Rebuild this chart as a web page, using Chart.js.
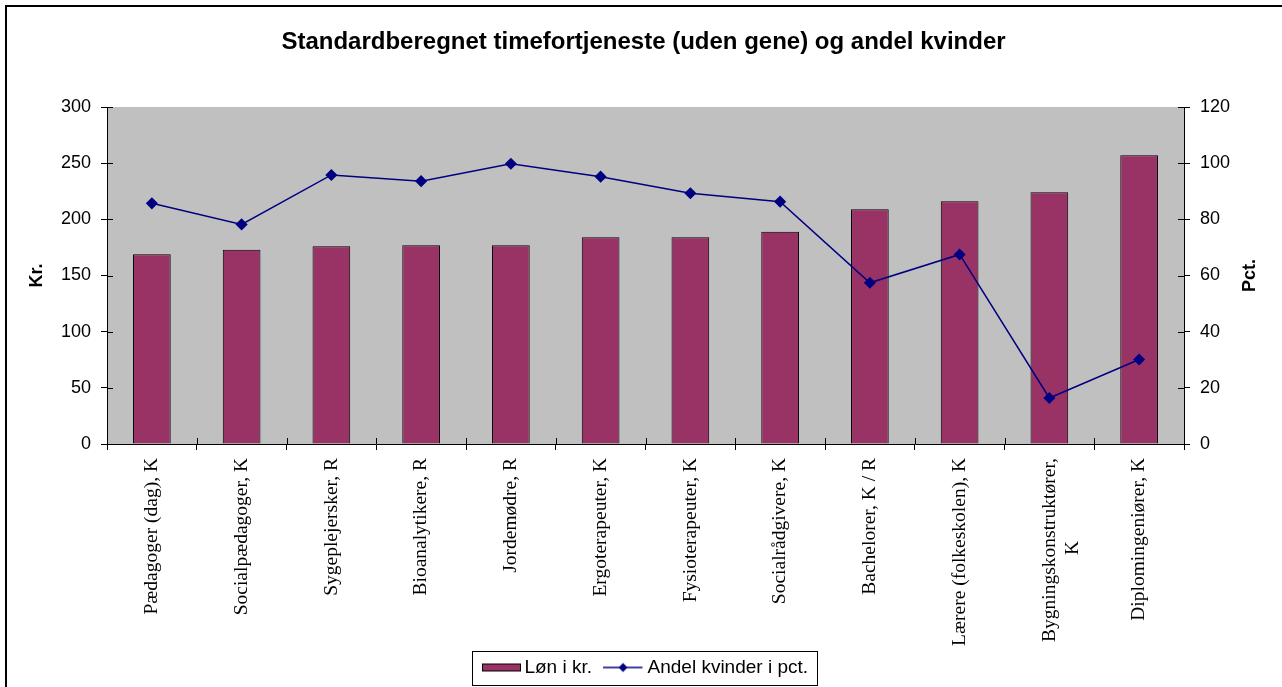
<!DOCTYPE html>
<html>
<head>
<meta charset="utf-8">
<script src="https://cdn.jsdelivr.net/npm/chart.js@4/dist/chart.umd.min.js"></script>
<style>
  html, body { margin: 0; padding: 0; background: #fff; }
  #contenedor { width: 1282px; height: 687px; position: relative; }
</style>
</head>
<body>
<div id="contenedor"><canvas id="graficoLoen"></canvas></div>
<script>
// Kategorier (uddannelser)
var uddannelser = [
  'Pædagoger (dag), K', 'Socialpædagoger, K', 'Sygeplejersker, R', 'Bioanalytikere, R',
  'Jordemødre, R', 'Ergoterapeuter, K', 'Fysioterapeuter, K', 'Socialrådgivere, K',
  'Bachelorer, K / R', 'Lærere (folkeskolen), K', ['Bygningskonstruktører,', 'K'], 'Diplomingeniører, K'
];
// Løn i kr. (venstre akse)
var loenKr = [169, 173, 176, 177, 177, 184, 184, 189, 209, 216, 224, 257];
// Andel kvinder i pct. (højre akse)
var andelKvinder = [85.7, 78.2, 95.8, 93.6, 99.8, 95.2, 89.3, 86.3, 57.4, 67.5, 16.4, 30.1];
// Akse-inddelinger
var ticksKr = [0, 50, 100, 150, 200, 250, 300];
var ticksPct = [0, 20, 40, 60, 80, 100, 120];

var fuente = '"Liberation Sans", Arial, sans-serif';
var fuenteSerif = '"Liberation Serif", "Times New Roman", serif';
Chart.defaults.color = '#000';
Chart.defaults.font.family = fuente;

// Obtener el contexto para medir texto
var medir = document.createElement('canvas').getContext('2d');
medir.font = '19.5px ' + fuenteSerif;

// muestras de la leyenda (imagenes pequeñas)
function muestraBarra() {
  var c = document.createElement('canvas');
  c.width = 52; c.height = 12;
  var x = c.getContext('2d');
  x.fillStyle = '#993366';
  x.fillRect(11, 2, 39, 8);
  x.strokeStyle = '#000'; x.lineWidth = 1;
  x.strokeRect(11.5, 2.5, 38, 7);
  return c;
}
function muestraLinea() {
  var c = document.createElement('canvas');
  c.width = 52; c.height = 12;
  var x = c.getContext('2d');
  x.strokeStyle = '#000080'; x.lineWidth = 1.5;
  x.beginPath(); x.moveTo(9, 6); x.lineTo(48.5, 6); x.stroke();
  x.fillStyle = '#000080';
  x.beginPath(); x.moveTo(29, 1.5); x.lineTo(33.5, 6); x.lineTo(29, 10.5); x.lineTo(24.5, 6); x.closePath(); x.fill();
  return c;
}

var fondoYMarco = {
  id: 'fondoYMarco',
  beforeDraw: function (chart) {
    var c = chart.ctx, a = chart.chartArea;
    c.save();
    c.fillStyle = '#fff';
    c.fillRect(0, 0, chart.width, chart.height);
    c.fillStyle = '#c0c0c0';
    c.fillRect(a.left, a.top, a.right - a.left, a.bottom - a.top);
    // marco exterior: solo arriba e izquierda
    c.strokeStyle = '#000'; c.lineWidth = 2;
    c.beginPath(); c.moveTo(6, chart.height); c.lineTo(6, 6); c.lineTo(chart.width, 6); c.stroke();
    c.restore();
  },
  afterDraw: function (chart) {
    var c = chart.ctx, a = chart.chartArea;
    var y = chart.scales.y, y1 = chart.scales.y1;
    c.save();
    c.strokeStyle = '#000'; c.lineWidth = 1;
    c.beginPath();
    // marcas hacia dentro (cruzadas)
    y.ticks.forEach(function (t) {
      var p = Math.round(y.getPixelForValue(t.value)) + 0.5;
      c.moveTo(a.left, p); c.lineTo(a.left + 6, p);
    });
    y1.ticks.forEach(function (t) {
      var p = Math.round(y1.getPixelForValue(t.value)) + 0.5;
      c.moveTo(a.right - 6, p); c.lineTo(a.right, p);
    });
    var paso = (a.right - a.left) / uddannelser.length;
    for (var i = 0; i <= uddannelser.length; i++) {
      var px = Math.round(a.left + i * paso) + 0.5;
      c.moveTo(px, a.bottom); c.lineTo(px, a.bottom - 6);
    }
    c.stroke();

    // titulo del eje derecho, leido de abajo hacia arriba
    c.fillStyle = '#000';
    c.font = 'bold 18px ' + fuente;
    c.textAlign = 'center'; c.textBaseline = 'middle';
    c.translate(1250, (a.top + a.bottom) / 2);
    c.rotate(-Math.PI / 2);
    c.fillText('Pct.', 0, 0);
    c.restore();

    // marco de la leyenda
    var hb = chart.legend.legendHitBoxes;
    if (hb && hb.length) {
      var izq = hb[0].left - 7;
      var ult = hb[hb.length - 1];
      var der = ult.left + ult.width + 9;
      var centro = hb[0].top + hb[0].height / 2;
      c.save();
      c.strokeStyle = '#000'; c.lineWidth = 1;
      c.strokeRect(Math.round(izq) + 0.5, Math.round(centro - 17) + 0.5, Math.round(der - izq), 34);
      c.restore();
    }
  }
};

var ctx = document.getElementById('graficoLoen').getContext('2d');
var grafico = new Chart(ctx, {
  type: 'bar',
  data: {
    labels: uddannelser,
    datasets: [
      {
        type: 'bar',
        label: 'Løn i kr.',
        data: loenKr,
        yAxisID: 'y',
        backgroundColor: '#993366',
        borderColor: '#000',
        borderWidth: 1,
        barPercentage: 0.42,
        categoryPercentage: 1.0,
        order: 2
      },
      {
        type: 'line',
        label: 'Andel kvinder i pct.',
        data: andelKvinder,
        yAxisID: 'y1',
        borderColor: '#000080',
        borderWidth: 1.5,
        backgroundColor: '#000080',
        pointStyle: 'rectRot',
        pointRadius: 5,
        pointBackgroundColor: '#000080',
        pointBorderColor: '#000080',
        tension: 0,
        order: 1
      }
    ]
  },
  options: {
    responsive: true,
    maintainAspectRatio: false,
    animation: false,
    layout: { padding: { left: 26, right: 21, top: 0, bottom: 0 } },
    plugins: {
      title: {
        display: true,
        text: 'Standardberegnet timefortjeneste (uden gene) og andel kvinder',
        font: { size: 24, weight: 'bold', family: fuente },
        color: '#000',
        padding: { top: 28, bottom: 50.2 }
      },
      legend: {
        position: 'bottom',
        labels: {
          usePointStyle: true,
          pointStyleWidth: 36,
          padding: 10,
          font: { size: 19, family: fuente },
          color: '#000',
          generateLabels: function (chart) {
            return [
              { text: 'Løn i kr.', pointStyle: muestraBarra(), datasetIndex: 0, hidden: false, lineWidth: 0, fontColor: '#000' },
              { text: 'Andel kvinder i pct.', pointStyle: muestraLinea(), datasetIndex: 1, hidden: false, lineWidth: 0, fontColor: '#000' }
            ];
          }
        }
      },
      tooltip: { enabled: true }
    },
    scales: {
      x: {
        grid: { display: true, drawOnChartArea: false, drawTicks: true, tickLength: 6, color: '#000', tickColor: '#000' },
        border: { display: true, color: '#000', width: 1 },
        afterFit: function (scale) { scale.height = 204; },
        ticks: {
          autoSkip: false,
          minRotation: 90,
          maxRotation: 90,
          padding: 8,
          color: '#000',
          font: { size: 19.5, family: fuenteSerif },
          callback: function (valor) {
            var etiqueta = this.getLabelForValue(valor);
            if (Array.isArray(etiqueta)) {
              // centrar la linea corta respecto a la larga
              var w1 = medir.measureText(etiqueta[0]).width;
              var w2 = medir.measureText(etiqueta[1]).width;
              var esp = medir.measureText(' ').width;
              var n = Math.round(((w1 - w2) / 2) / esp);
              return [etiqueta[0], etiqueta[1] + ' '.repeat(n)];
            }
            return etiqueta;
          }
        }
      },
      y: {
        position: 'left',
        min: ticksKr[0],
        max: ticksKr[ticksKr.length - 1],
        afterBuildTicks: function (scale) { scale.ticks = ticksKr.map(function (v) { return { value: v }; }); },
        afterFit: function (scale) { scale.width = 81; },
        grid: { drawOnChartArea: false, drawTicks: true, tickLength: 6, color: '#000', tickColor: '#000' },
        border: { display: true, color: '#000', width: 1 },
        ticks: { padding: 10, color: '#000', font: { size: 18, family: fuente } },
        title: { display: true, text: 'Kr.', color: '#000', padding: 0, font: { size: 18, weight: 'bold', family: fuente } }
      },
      y1: {
        position: 'right',
        min: ticksPct[0],
        max: ticksPct[ticksPct.length - 1],
        afterBuildTicks: function (scale) { scale.ticks = ticksPct.map(function (v) { return { value: v }; }); },
        afterFit: function (scale) { scale.width = 77; },
        grid: { drawOnChartArea: false, drawTicks: true, tickLength: 6, color: '#000', tickColor: '#000' },
        border: { display: true, color: '#000', width: 1 },
        ticks: { padding: 10, color: '#000', font: { size: 18, family: fuente } }
      }
    }
  },
  plugins: [fondoYMarco]
});
</script>
</body>
</html>
